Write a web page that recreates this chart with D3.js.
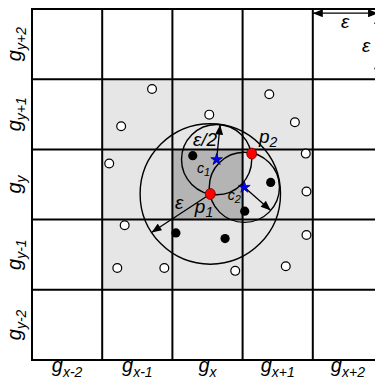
<!DOCTYPE html>
<html>
<head>
<meta charset="utf-8">
<script src="https://cdn.jsdelivr.net/npm/d3@7"></script>
<style>
  body { margin: 0; background: #fff; }
  svg { display: block; }
  text { font-family: "Liberation Sans", Arial, sans-serif; font-style: italic; fill: #000; }
</style>
</head>
<body>
<div id="chart"></div>
<script>
// grid labels
var colLabels = ["x-2", "x-1", "x", "x+1", "x+2"];
var rowLabels = ["y+2", "y+1", "y", "y-1", "y-2"];

// neighbourhood (in cells) and the core cell
var neighbourCells = [1, 4];
var coreCell = [2, 3];

// points in grid units (col, row from top-left)
var openPoints = [
  [1.71, 1.14], [3.38, 1.215], [2.525, 1.505], [1.27, 1.67], [3.745, 1.614],
  [1.10, 2.20], [3.90, 2.06], [3.91, 2.60],
  [1.32, 3.08], [3.91, 3.22], [1.215, 3.69], [1.885, 3.69], [2.895, 3.73], [3.615, 3.665]
];
var filledPoints = [[2.29, 2.09], [3.40, 2.47], [3.03, 2.88], [2.05, 3.19], [2.75, 3.27]];
var redPoints = [[2.54, 2.635], [3.13, 2.06]];          // p1, p2
var centerPoints = [[2.63, 2.145], [3.025, 2.54]];      // c1, c2

// circles: centre + radius (eps = 1 cell)
var circles = [
  { c: [2.54, 2.635], r: 1 },
  { c: [2.63, 2.145], r: 0.5 },
  { c: [3.025, 2.54], r: 0.5 }
];

// radius arrows: start, direction, length
var arrows = [
  { from: [2.54, 2.635], dir: [-0.837, 0.548], len: 1 },
  { from: [2.63, 2.145], dir: [0.1, -0.995], len: 0.5 },
  { from: [3.025, 2.54], dir: [0.753, 0.658], len: 0.5 }
];
// eps legend arrows (double headed)
var legendArrows = [
  { from: [4.0, 0.06], to: [4.93, 0.06] },
  { from: [4.93, 0.07], to: [4.93, 0.98] }
];

var labels = [
  { pos: [2.037, 2.849], main: "ε", sub: "" },
  { pos: [2.32, 2.906], main: "p", sub: "1" },
  { pos: [3.234, 1.909], main: "p", sub: "2" },
  { pos: [2.293, 1.952], main: "ε/2", sub: "" },
  { pos: [4.40, 0.27], main: "ε", sub: "" },
  { pos: [4.70, 0.61], main: "ε", sub: "" }
];
var smallLabels = [
  { pos: [2.35, 2.336], main: "c", sub: "1" },
  { pos: [2.79, 2.72], main: "c", sub: "2" }
];

var width = 375, height = 383;

var svg = d3.select("#chart").append("svg")
  .attr("width", width)
  .attr("height", height);

var x = d3.scaleLinear().domain([0, 5]).range([32, 383]);
var y = d3.scaleLinear().domain([0, 5]).range([9, 360]);
var unit = x(1) - x(0);

// arrow head
var defs = svg.append("defs");
function marker(id, orient) {
  defs.append("marker")
    .attr("id", id)
    .attr("viewBox", "0 0 10 8")
    .attr("refX", 10).attr("refY", 4)
    .attr("markerWidth", 11).attr("markerHeight", 8)
    .attr("markerUnits", "userSpaceOnUse")
    .attr("orient", orient)
    .append("path")
    .attr("d", "M0,0 L10,4 L0,8 Z")
    .attr("fill", "#000");
}
marker("head", "auto");
marker("headStart", "auto-start-reverse");

// shading
svg.append("rect")
  .attr("x", x(neighbourCells[0])).attr("y", y(neighbourCells[0]))
  .attr("width", x(neighbourCells[1]) - x(neighbourCells[0]))
  .attr("height", y(neighbourCells[1]) - y(neighbourCells[0]))
  .attr("fill", "#e6e6e6");
svg.append("rect")
  .attr("x", x(coreCell[0])).attr("y", y(coreCell[0]))
  .attr("width", x(coreCell[1]) - x(coreCell[0]))
  .attr("height", y(coreCell[1]) - y(coreCell[0]))
  .attr("fill", "#b4b4b4");

// grid lines
var lines = d3.range(0, 6);
svg.selectAll(".vline").data(lines).enter().append("line")
  .attr("x1", function(d) { return x(d); }).attr("x2", function(d) { return x(d); })
  .attr("y1", y(0) - 1).attr("y2", y(5) + 1)
  .attr("stroke", "#000").attr("stroke-width", 2);
svg.selectAll(".hline").data(lines).enter().append("line")
  .attr("x1", x(0) - 1).attr("x2", x(5) + 1)
  .attr("y1", function(d) { return y(d); }).attr("y2", function(d) { return y(d); })
  .attr("stroke", "#000").attr("stroke-width", 2);

// circles
svg.selectAll(".ring").data(circles).enter().append("circle")
  .attr("cx", function(d) { return x(d.c[0]); })
  .attr("cy", function(d) { return y(d.c[1]); })
  .attr("r", function(d) { return d.r * unit; })
  .attr("fill", "none").attr("stroke", "#000").attr("stroke-width", 1.4);

// radius arrows
svg.selectAll(".arrow").data(arrows).enter().append("line")
  .attr("x1", function(d) { return x(d.from[0]); })
  .attr("y1", function(d) { return y(d.from[1]); })
  .attr("x2", function(d) { return x(d.from[0] + d.dir[0] * d.len); })
  .attr("y2", function(d) { return y(d.from[1] + d.dir[1] * d.len); })
  .attr("stroke", "#000").attr("stroke-width", 1.3)
  .attr("marker-end", "url(#head)");

svg.selectAll(".legarrow").data(legendArrows).enter().append("line")
  .attr("x1", function(d) { return x(d.from[0]); })
  .attr("y1", function(d) { return y(d.from[1]); })
  .attr("x2", function(d) { return x(d.to[0]); })
  .attr("y2", function(d) { return y(d.to[1]); })
  .attr("stroke", "#000").attr("stroke-width", 1.3)
  .attr("marker-start", "url(#headStart)")
  .attr("marker-end", "url(#head)");

// points
svg.selectAll(".open").data(openPoints).enter().append("circle")
  .attr("cx", function(d) { return x(d[0]); })
  .attr("cy", function(d) { return y(d[1]); })
  .attr("r", 4.4)
  .attr("fill", "#fff").attr("stroke", "#000").attr("stroke-width", 1.2);

svg.selectAll(".filled").data(filledPoints).enter().append("circle")
  .attr("cx", function(d) { return x(d[0]); })
  .attr("cy", function(d) { return y(d[1]); })
  .attr("r", 4.6)
  .attr("fill", "#000");

svg.selectAll(".red").data(redPoints).enter().append("ellipse")
  .attr("cx", function(d) { return x(d[0]); })
  .attr("cy", function(d) { return y(d[1]); })
  .attr("rx", 5).attr("ry", 5.5)
  .attr("fill", "#ff0000").attr("stroke", "#600").attr("stroke-width", 0.8);

var star = d3.symbol().type(d3.symbolStar).size(42);
svg.selectAll(".star").data(centerPoints).enter().append("path")
  .attr("d", star)
  .attr("transform", function(d) { return "translate(" + x(d[0]) + "," + y(d[1]) + ")"; })
  .attr("fill", "#0000ff").attr("stroke", "#000033").attr("stroke-width", 0.7);

// labels inside the figure
function addLabel(d, size, subSize, shift) {
  var t = svg.append("text")
    .attr("x", x(d.pos[0])).attr("y", y(d.pos[1]))
    .style("font-size", size + "px");
  t.append("tspan").text(d.main);
  if (d.sub) {
    t.append("tspan").attr("dy", shift).style("font-size", subSize + "px").text(d.sub);
  }
}
labels.forEach(function(d) { addLabel(d, 19, 14, 4); });
smallLabels.forEach(function(d) { addLabel(d, 14, 11, 3); });

// axis labels
var colText = svg.selectAll(".col").data(colLabels).enter().append("text")
  .attr("x", function(d, i) { return x(i + 0.5); })
  .attr("y", 372)
  .attr("text-anchor", "middle")
  .style("font-size", "20px");
colText.append("tspan").text("g");
colText.append("tspan").attr("dy", 5).style("font-size", "14px").text(function(d) { return d; });

var rowText = svg.selectAll(".row").data(rowLabels).enter().append("text")
  .attr("transform", function(d, i) { return "translate(21," + y(i + 0.5) + ") rotate(-90)"; })
  .attr("text-anchor", "middle")
  .style("font-size", "20px");
rowText.append("tspan").text("g");
rowText.append("tspan").attr("dy", 5).style("font-size", "14px").text(function(d) { return d; });
</script>
</body>
</html>
